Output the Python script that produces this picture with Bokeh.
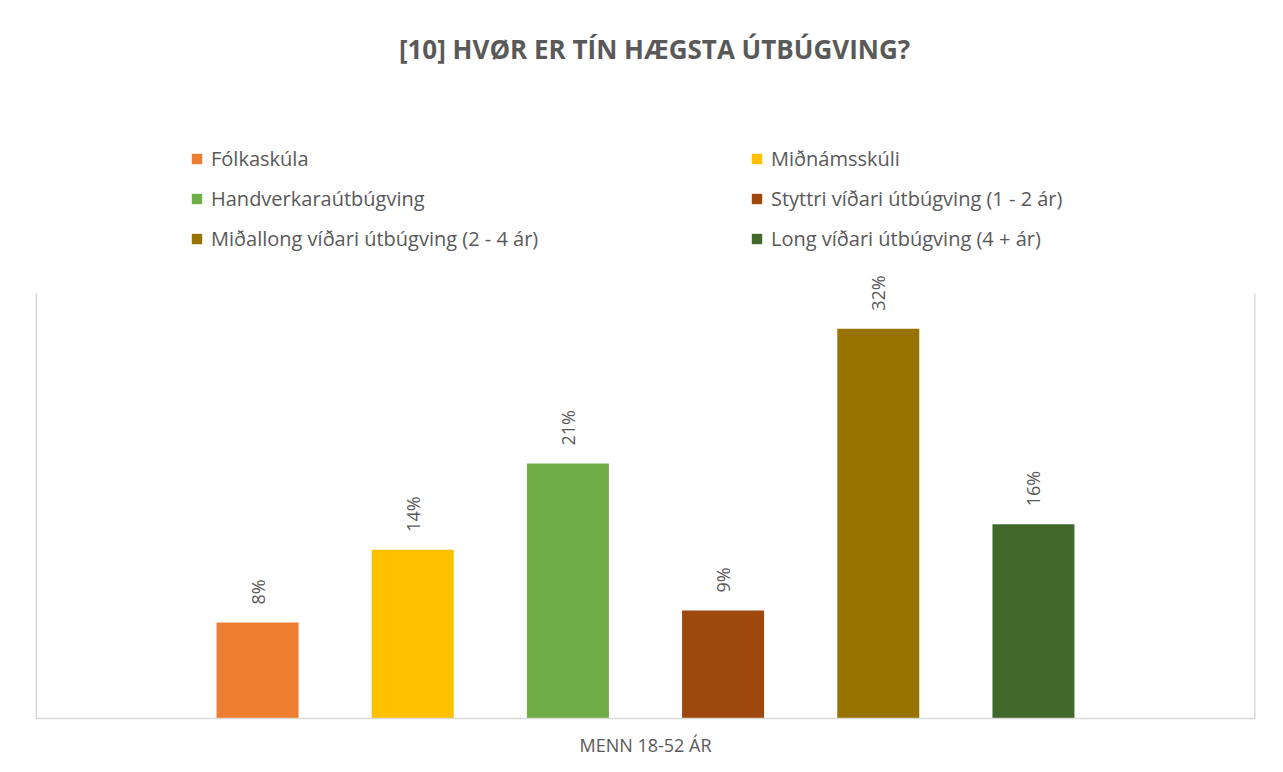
import math
from bokeh.plotting import figure
from bokeh.models import ColumnDataSource, LabelSet, Label, FactorRange, Range1d
from bokeh.transform import dodge
from bokeh.core.properties import value
from bokeh.embed import file_html
from bokeh.resources import INLINE

# ---- data ----
title_text = "[10] HVØR ER TÍN HÆGSTA ÚTBÚGVING?"
category = ["MENN 18-52 ÁR"]
series = [
    "Fólkaskúla",
    "Miðnámsskúli",
    "Handverkaraútbúgving",
    "Styttri víðari útbúgving (1 - 2 ár)",
    "Miðallong víðari útbúgving (2 - 4 ár)",
    "Long víðari útbúgving (4 + ár)",
]
values = [0.079, 0.139, 0.210, 0.089, 0.321, 0.160]
colors = ["#ED7D31", "#FFC000", "#70AD47", "#9E480E", "#997300", "#43682B"]
axis_max = 0.35

FONT = "Open Sans"
TXT = "#595959"

W, H = 1275, 764
B_LEFT, B_RIGHT, B_BOTTOM = 35, 20, 46
plot_h = 425                      # height of the value area in px
frame_h = H - B_BOTTOM
y_end = axis_max * frame_h / plot_h   # headroom above the value area for title / legend

p = figure(
    width=W, height=H,
    x_range=FactorRange(factors=category, range_padding=0),
    y_range=Range1d(0, y_end),
    output_backend="svg", toolbar_location=None, y_axis_location=None,
    min_border_left=B_LEFT, min_border_right=B_RIGHT, min_border_top=0, min_border_bottom=B_BOTTOM,
)
p.outline_line_color = None
p.grid.visible = False
p.background_fill_color = "white"
p.border_fill_color = "white"

n = len(series)
step = 0.1272
bw = 0.0672
for i, (s, v, c) in enumerate(zip(series, values, colors)):
    off = (i - (n - 1) / 2) * step
    src = ColumnDataSource(dict(cat=category, val=[v], lbl=[f"{round(v * 100)}%"]))
    p.vbar(x=dodge("cat", off, range=p.x_range), top="val", width=bw, source=src,
           fill_color=c, line_color=None, legend_label=s)
    p.add_layout(LabelSet(
        x=dodge("cat", off, range=p.x_range), y="val", text="lbl", source=src,
        angle=math.pi / 2, text_align="left", text_baseline="middle", y_offset=18,
        text_font=value(FONT), text_font_size="18px", text_color=TXT))

# plot-area side borders (left and right edges of the value area)
p.segment(x0=[0, 1], x1=[0, 1], y0=[0, 0], y1=[axis_max, axis_max],
          line_color="#d9d9d9", line_width=3)

# x axis
ax = p.xaxis[0]
ax.axis_line_color = "#d9d9d9"
ax.axis_line_width = 1.5
ax.major_tick_line_color = None
ax.major_tick_out = 0
ax.major_tick_in = 0
ax.minor_tick_line_color = None
ax.major_label_text_font = FONT
ax.major_label_text_font_size = "18px"
ax.major_label_text_color = TXT
ax.major_label_standoff = 14

# legend (two columns, filled row by row)
lg = p.legend[0]
items = list(lg.items)
lg.items = items[0::2] + items[1::2]
lg.location = (155, 466)
lg.ncols = 2
lg.orientation = "vertical"
lg.label_text_font = FONT
lg.label_text_font_size = "20px"
lg.label_text_color = TXT
lg.glyph_width = 13
lg.glyph_height = 13
lg.label_standoff = 8
lg.label_width = 526
lg.label_height = 27
lg.spacing = 13
lg.padding = 0
lg.margin = 0
lg.border_line_color = None
lg.background_fill_alpha = 0

# title
p.add_layout(Label(
    x=619, y=670, x_units="screen", y_units="screen", text=title_text,
    text_align="center", text_baseline="middle", text_font=FONT,
    text_font_style="bold", text_font_size="26px", text_color=TXT))

open("out.html", "w").write(file_html(p, INLINE))
